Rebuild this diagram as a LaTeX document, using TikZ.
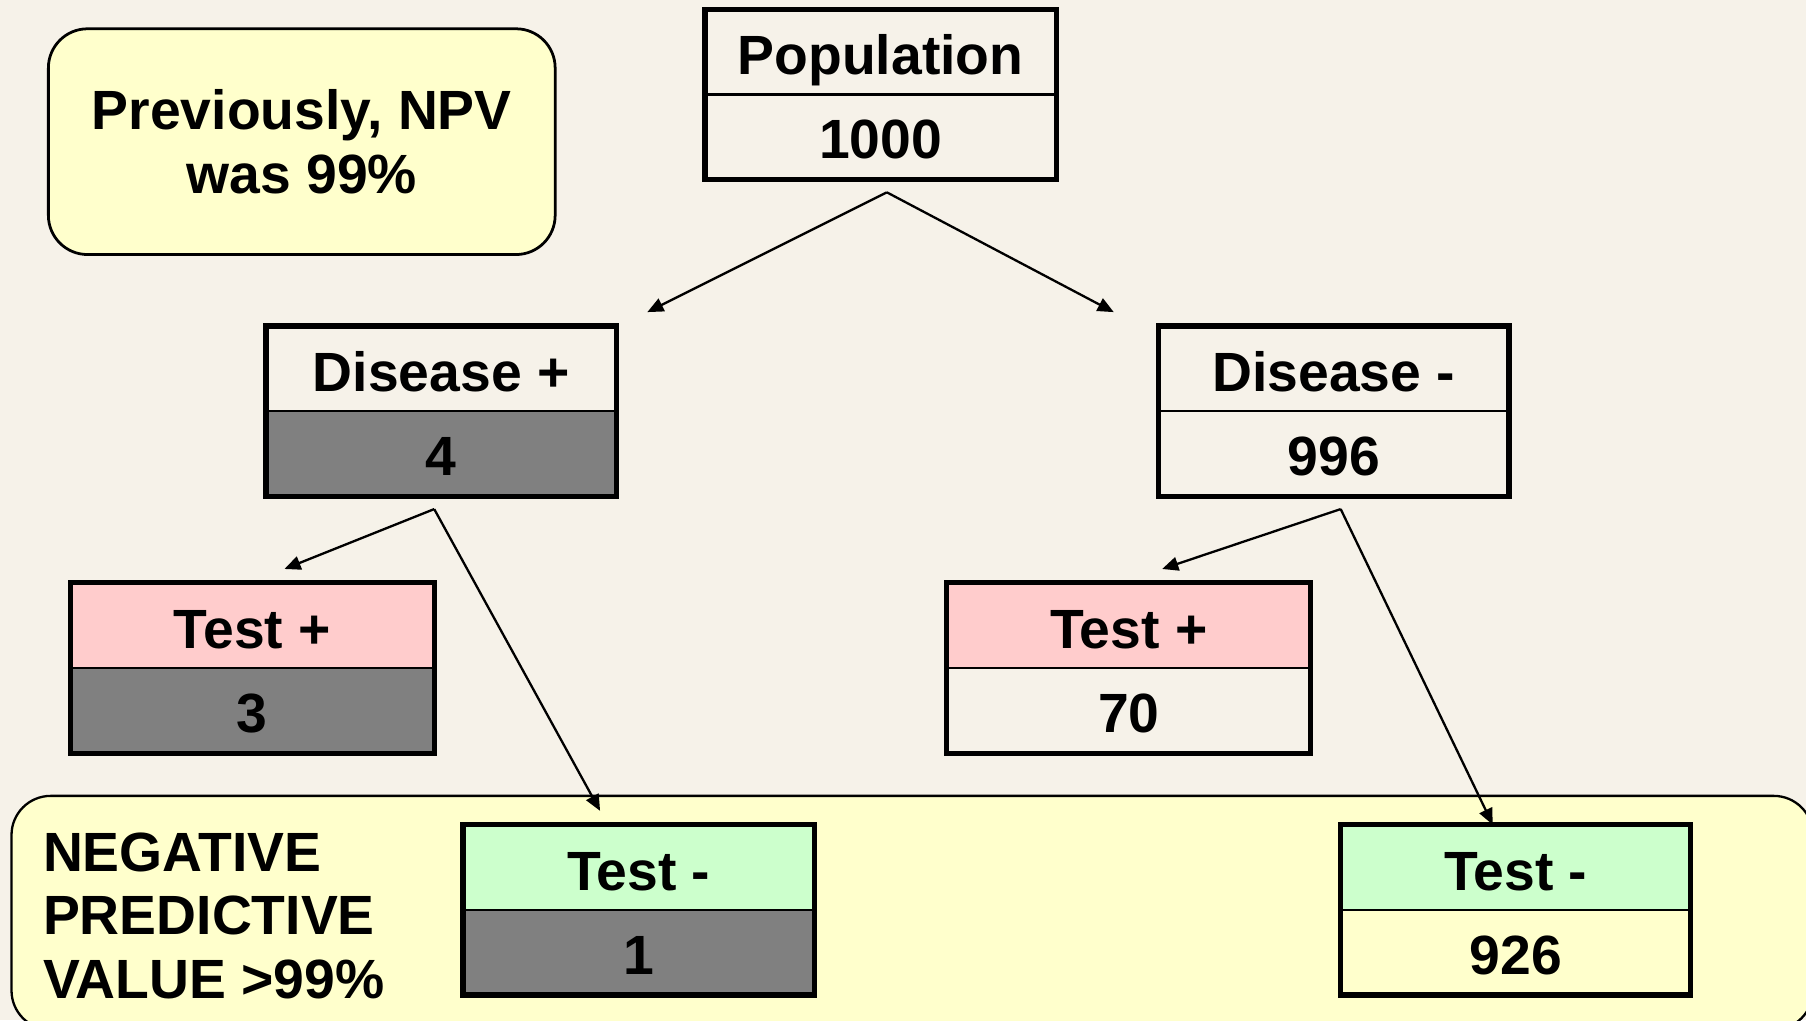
\documentclass[tikz,border=0pt]{standalone}
\usepackage{fontspec}
\setmainfont{Liberation Sans}
\usetikzlibrary{arrows.meta}
\definecolor{bgc}{HTML}{F6F2E9}
\definecolor{noteyellow}{HTML}{FFFFCC}
\definecolor{pinkc}{HTML}{FFCCCC}
\definecolor{mintc}{HTML}{CCFFCC}
\definecolor{grayc}{HTML}{808080}
\begin{document}
\begin{tikzpicture}[x=0.5pt,y=-0.5pt,
  bigfont/.style={font=\bfseries\fontsize{24}{27.5}\selectfont},
  cell/.style={draw, line width=1pt, inner sep=0pt, minimum height=36.5pt,
    text height=19.5pt, text depth=0pt, bigfont},
  frame/.style={draw, line width=2.3pt},
  conn/.style={line width=1pt, -{Triangle[length=7pt,width=6pt]}},
  note/.style={draw, line width=1.2pt, rounded corners=17pt, fill=noteyellow}]
\useasboundingbox (0,0) rectangle (1568,886);
\fill[bgc] (0,0) rectangle (1568,886);

% bottom highlighted region
\path[note, line width=1pt] (10,691) rectangle (1574,894);

% note box
\node[note, minimum width=220pt, minimum height=98pt, bigfont, align=center, inner sep=0pt] (prev) at (262,123)
  {Previously, NPV\\[0pt]was 99\%};

% Population
\node[cell, minimum width=151.5pt] (popT) at (764.5,45.5) {Population};
\node[cell, minimum width=151.5pt] (popB) at (764.5,118.5) {1000};
\draw[frame] (popT.north west) rectangle (popB.south east);

% Disease +
\node[cell, minimum width=151pt] (dpT) at (383,320.5) {Disease +};
\node[cell, minimum width=151pt, fill=grayc] (dpB) at (383,393.5) {4};
\draw[frame] (dpT.north west) rectangle (dpB.south east);

% Disease -
\node[cell, minimum width=151pt] (dmT) at (1158,320.5) {Disease -};
\node[cell, minimum width=151pt] (dmB) at (1158,393.5) {996};
\draw[frame] (dmT.north west) rectangle (dmB.south east);

% Test + left
\node[cell, minimum width=157pt, fill=pinkc] (tplT) at (219,543.5) {Test +};
\node[cell, minimum width=157pt, fill=grayc] (tplB) at (219,616.5) {3};
\draw[frame] (tplT.north west) rectangle (tplB.south east);

% Test + right
\node[cell, minimum width=157pt, fill=pinkc] (tprT) at (980,543.5) {Test +};
\node[cell, minimum width=157pt] (tprB) at (980,616.5) {70};
\draw[frame] (tprT.north west) rectangle (tprB.south east);

% Test - left
\node[cell, minimum width=151.5pt, fill=mintc] (tmlT) at (554.5,753.5) {Test -};
\node[cell, minimum width=151.5pt, fill=grayc] (tmlB) at (554.5,826.5) {1};
\draw[frame] (tmlT.north west) rectangle (tmlB.south east);

% Test - right
\node[cell, minimum width=151pt, fill=mintc] (tmrT) at (1316,753.5) {Test -};
\node[cell, minimum width=151pt] (tmrB) at (1316,826.5) {926};
\draw[frame] (tmrT.north west) rectangle (tmrB.south east);

% NPV label
\node[bigfont, align=left, anchor=west, inner sep=0pt] (npv) at (37,795)
  {NEGATIVE\\PREDICTIVE\\VALUE >99\%};

% connector points
\coordinate (a0) at (770,167);
\coordinate (t1) at (562,271);
\coordinate (t2) at (967,271);
\coordinate (a1) at (377,442);
\coordinate (t3) at (247,494);
\coordinate (t4) at (521,704);
\coordinate (a2) at (1164,442);
\coordinate (t5) at (1009,494);
\coordinate (t6) at (1296,716);

\draw[conn] (a0) -- (t1);
\draw[conn] (a0) -- (t2);
\draw[conn] (a1) -- (t3);
\draw[conn] (a1) -- (t4);
\draw[conn] (a2) -- (t5);
\draw[conn] (a2) -- (t6);
\end{tikzpicture}
\end{document}
